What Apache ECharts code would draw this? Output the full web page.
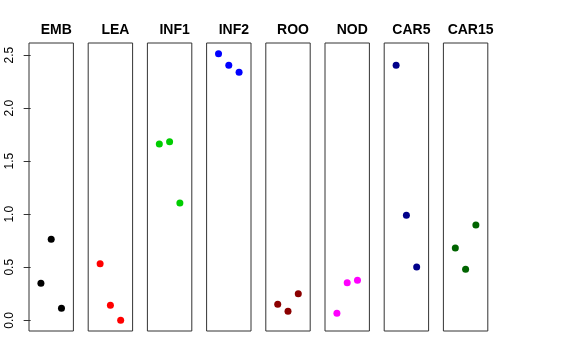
<!DOCTYPE html>
<html>
<head>
<meta charset="utf-8">
<script src="https://cdn.jsdelivr.net/npm/echarts@6/dist/echarts.min.js"></script>
<style>html,body{margin:0;padding:0;background:#fff}#c{width:576px;height:360px}</style>
</head>
<body>
<div id="c"></div>
<script>
var categories = ["EMB", "LEA", "INF1", "INF2", "ROO", "NOD", "CAR5", "CAR15"];
var colors = ["#000000", "#FF0000", "#00CD00", "#0000FF", "#8B0000", "#FF00FF", "#00008B", "#006400"];
var EMB = [0.349, 0.763, 0.113];
var LEA = [0.534, 0.141, 0.0];
var INF1 = [1.662, 1.683, 1.106];
var INF2 = [2.513, 2.403, 2.337];
var ROO = [0.151, 0.085, 0.251];
var NOD = [0.066, 0.354, 0.377];
var CAR5 = [2.403, 0.990, 0.502];
var CAR15 = [0.681, 0.481, 0.898];
var yTicks = [0, 0.5, 1.0, 1.5, 2.0, 2.5];
var yTickLabels = ["0.0", "0.5", "1.0", "1.5", "2.0", "2.5"];
var seriesValues = [EMB, LEA, INF1, INF2, ROO, NOD, CAR5, CAR15];

var chart = echarts.init(document.getElementById('c'));
var grids = [], xAxes = [], yAxes = [], series = [], titles = [];
var yMin = -0.1005, yMax = 2.6135;
for (var i = 0; i < categories.length; i++) {
  var left = 29 + i * 59.2;
  var w = 44.4;
  grids.push({left: left, top: 43, width: w, height: 288, show: true, borderColor: '#333', borderWidth: 1, containLabel: false});
  xAxes.push({type: 'value', gridIndex: i, min: -0.16, max: 4.16, show: false});
  var ya = {type: 'value', gridIndex: i, min: yMin, max: yMax, splitLine: {show: false}};
  if (i === 0) {
    ya.show = true;
    ya.axisLine = {show: false};
    ya.axisTick = {show: true, length: 7, lineStyle: {color: '#333'}, customValues: yTicks};
    ya.axisLabel = {show: true, rotate: 90, margin: 13, fontSize: 12, color: '#000', fontFamily: 'Liberation Sans',
      customValues: yTicks, formatter: function (v) { var k = yTicks.indexOf(v); return k >= 0 ? yTickLabels[k] : v.toFixed(1); }};
  } else {
    ya.show = false;
  }
  yAxes.push(ya);
  series.push({
    type: 'scatter', xAxisIndex: i, yAxisIndex: i, symbolSize: 7,
    itemStyle: {color: colors[i], opacity: 1},
    data: seriesValues[i].map(function (v, j) { return [j + 1, v]; }),
    animation: false
  });
  titles.push({text: categories[i], left: left + w / 2, top: 18, textAlign: 'center',
    textStyle: {fontSize: 14, fontWeight: 'bold', color: '#000', fontFamily: 'Liberation Sans'}});
}
chart.setOption({
  animation: false,
  backgroundColor: '#fff',
  title: titles,
  grid: grids,
  xAxis: xAxes,
  yAxis: yAxes,
  series: series
});
</script>
</body>
</html>
